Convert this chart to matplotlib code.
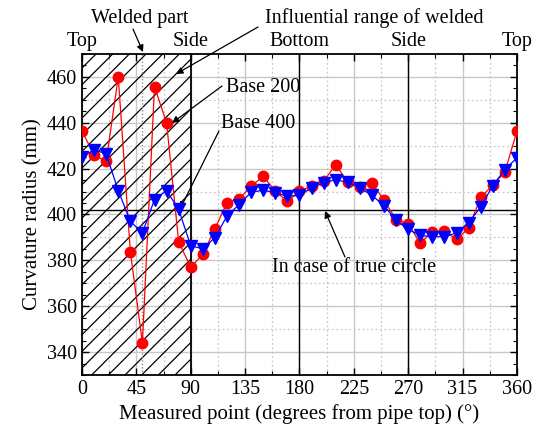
import numpy as np
import matplotlib
matplotlib.use("Agg")
import matplotlib.pyplot as plt
from matplotlib.ticker import MultipleLocator

plt.rcParams['font.family'] = ['Liberation Serif', 'DejaVu Serif']
plt.rcParams['hatch.linewidth'] = 0.9

angles = list(range(0, 361, 10))
base200 = [436.5, 425.8, 423.2, 460.0, 383.8, 344.0, 455.8, 439.9, 388.0, 377.0,
           382.6, 393.8, 405.1, 406.8, 412.3, 416.7, 410.1, 405.8, 410.1, 412.3,
           414.5, 421.7, 414.2, 412.0, 413.8, 406.2, 397.8, 395.9, 387.4, 392.5,
           392.8, 389.1, 394.0, 407.5, 412.7, 418.6, 436.2]
base400 = [424.9, 428.3, 426.4, 410.4, 397.0, 392.0, 406.5, 410.4, 402.2, 386.4,
           385.0, 389.9, 399.3, 404.3, 409.7, 410.6, 409.4, 408.0, 408.3, 411.6,
           413.8, 415.2, 414.0, 411.6, 408.3, 403.9, 397.4, 393.5, 390.9, 390.3,
           390.3, 392.0, 396.4, 403.3, 412.6, 419.6, 424.7]
true_circle = 402.0
weld_angle = 50
influence_range = (0, 90)
x_ticks = [0, 45, 90, 135, 180, 225, 270, 315, 360]
pos_labels = ['Top', 'Side', 'Bottom', 'Side', 'Top']
pos_angles = [0, 90, 180, 270, 360]

fig = plt.figure(figsize=(5.34, 4.34), dpi=100)
ax = fig.add_axes([0.1536, 0.136, 0.968 - 0.1536, 0.8756 - 0.136])

ax.set_xlim(0, 360)
ax.set_ylim(330, 470)

# grids
for xv in np.arange(0, 361, 45):
    ax.axvline(xv, color='#c8c8c8', lw=1.0, zorder=0)
for xv in np.arange(22.5, 360, 45):
    ax.axvline(xv, color='#c8c8c8', lw=0.9, ls=(0, (1.5, 2)), zorder=0)
for yv in np.arange(340, 470, 20):
    ax.axhline(yv, color='#c8c8c8', lw=1.0, zorder=0)
for yv in np.arange(350, 470, 20):
    ax.axhline(yv, color='#c8c8c8', lw=0.9, ls=(0, (1.5, 2)), zorder=0)

# hatched influential range
ax.axvspan(influence_range[0], influence_range[1], facecolor='none', edgecolor='black',
           hatch='//', lw=0, zorder=1)
ax.axvline(influence_range[1], color='black', lw=1.3, zorder=2)
ax.axvline(weld_angle, color='#888888', lw=1.0, ls=(0, (1, 1.5)), zorder=1)

for xv in [180, 270]:
    ax.axvline(xv, color='black', lw=1.0, zorder=2)
ax.axhline(true_circle, color='black', lw=1.0, zorder=2)

ax.plot(angles, base200, color='red', lw=0.9, marker='o', ms=7.5,
        markerfacecolor='red', markeredgecolor='red', zorder=3)
ax.plot(angles, base400, color='blue', lw=0.9, marker='v', ms=8.5,
        markerfacecolor='blue', markeredgecolor='blue', zorder=4)

ax.set_xticks(x_ticks)
ax.xaxis.set_minor_locator(MultipleLocator(22.5))
ax.yaxis.set_major_locator(MultipleLocator(20))
ax.yaxis.set_minor_locator(MultipleLocator(5))
ax.tick_params(which='both', direction='in', top=True, right=True, labelsize=14.5)
ax.tick_params(which='major', length=5, width=1)
ax.tick_params(which='minor', length=3, width=0.8)
ax.set_yticks(np.arange(340, 461, 20))
for s in ax.spines.values():
    s.set_linewidth(1.3)

ax.set_xlabel('Measured point (degrees from pipe top) (°)', fontsize=15, labelpad=4)
ax.set_ylabel('Curvature radius (mm)', fontsize=15, labelpad=3)

for a, lab in zip(pos_angles, pos_labels):
    ax.text(a, 471.5, lab, ha='center', va='bottom', fontsize=14.5)

arrowprops = dict(arrowstyle='-|>', color='black', lw=0.9, mutation_scale=10,
                  shrinkA=0, shrinkB=0)
# annotations in pixel positions of figure (top-left origin converted)
def fig_xy(px, py):
    return (px / 534.0, 1 - py / 434.0)

ax.annotate('', xy=fig_xy(143, 52), xycoords='figure fraction',
            xytext=fig_xy(133, 29), textcoords='figure fraction', arrowprops=arrowprops)
fig.text(*fig_xy(140, 18), 'Welded part', ha='center', va='center', fontsize=14.5)

ax.annotate('', xy=fig_xy(176, 74), xycoords='figure fraction',
            xytext=fig_xy(258, 27), textcoords='figure fraction', arrowprops=arrowprops)
fig.text(*fig_xy(374, 18), 'Influential range of welded', ha='center', va='center', fontsize=14.5)

ax.annotate('', xy=fig_xy(172, 123), xycoords='figure fraction',
            xytext=fig_xy(222, 86), textcoords='figure fraction', arrowprops=arrowprops)
fig.text(*fig_xy(226, 88), 'Base 200', ha='left', va='center', fontsize=14.5)

ax.annotate('', xy=fig_xy(180, 209), xycoords='figure fraction',
            xytext=fig_xy(219, 131), textcoords='figure fraction', arrowprops=arrowprops)
fig.text(*fig_xy(221, 124), 'Base 400', ha='left', va='center', fontsize=14.5)

ax.annotate('', xy=fig_xy(325, 211), xycoords='figure fraction',
            xytext=fig_xy(345, 257), textcoords='figure fraction', arrowprops=arrowprops)
fig.text(*fig_xy(354, 268), 'In case of true circle', ha='center', va='center', fontsize=14.5)

fig.savefig('out.png', dpi=100)
